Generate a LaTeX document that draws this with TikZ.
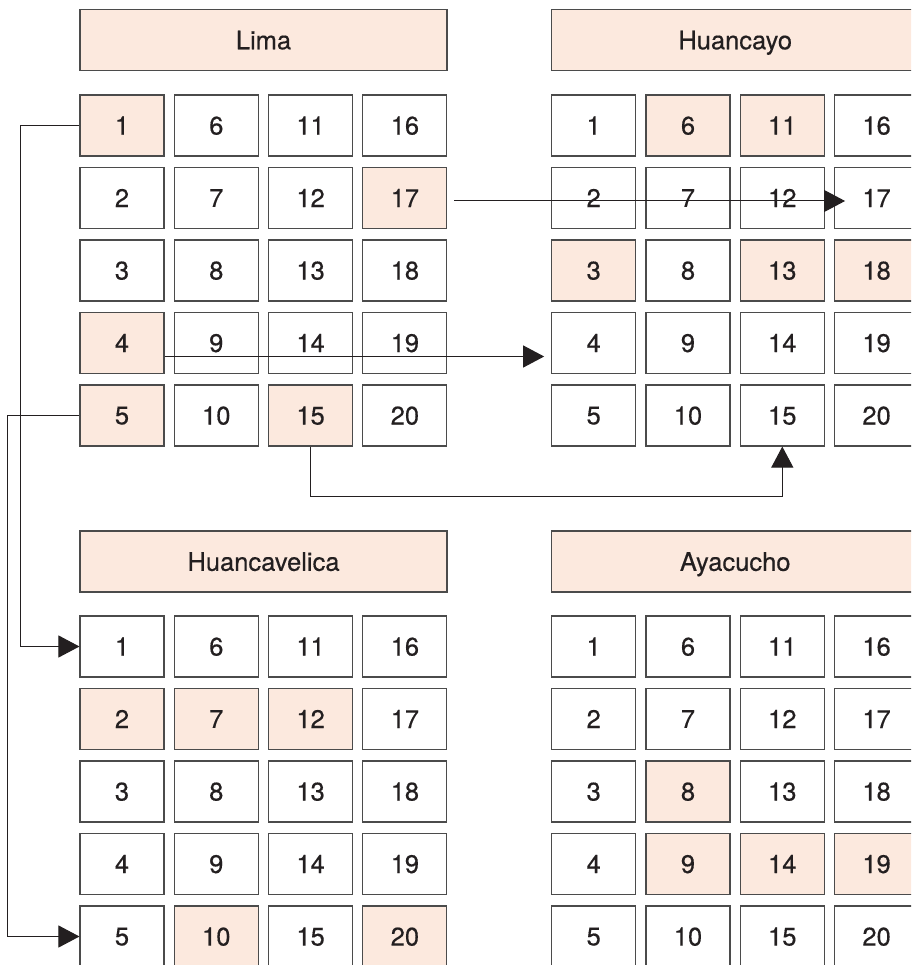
\documentclass[tikz,border=0pt]{standalone}
\usepackage{fontspec}
\setmainfont{TeX Gyre Heros}
\newfontfamily\cellfont[FakeBold=0.4]{TeX Gyre Heros}
\usetikzlibrary{arrows.meta}

\definecolor{peach}{RGB}{252,233,222}
\definecolor{edge}{RGB}{75,75,75}
\definecolor{ink}{RGB}{35,31,32}

% block of 20 numbered cells, counted down the columns
\newcommand{\citygrid}[4]{% prefix, left x, top y, shaded cells
  \foreach \c in {0,...,3}{
    \foreach \r in {0,...,4}{
      \pgfmathtruncatemacro{\n}{5*\c+\r+1}
      \gdef\cellfill{white}
      \foreach \h in {#4}{\ifnum\h=\n\relax\gdef\cellfill{peach}\fi}
      \node[cell, fill=\cellfill] (#1\n) at (#2+42+94.3*\c, #3+30.5+72.5*\r) {\n};
    }
  }
}

\begin{document}
\begin{tikzpicture}[x=1pt, y=-1pt,
    cell/.style={draw=edge, line width=1.1pt, minimum width=84pt, minimum height=61pt, inner sep=0pt, text depth=0pt, font=\cellfont\fontsize{25.5}{30}\selectfont, text=ink},
    head/.style={cell, fill=peach, minimum width=367pt},
    arr/.style={-{Triangle[length=21pt,width=22pt]}, line width=1pt, draw=ink},
    link/.style={line width=1pt, draw=ink}
]
\useasboundingbox (0,0) rectangle (911,965);
\clip (0,0) rectangle (911,965);

\node[head] (lima) at (263.5,40) {Lima};
\node[head] (huancayo) at (735.2,40) {Huancayo};
\node[head] (huancavelica) at (263.5,561.5) {Huancavelica};
\node[head] (ayacucho) at (735.2,561.5) {Ayacucho};

\citygrid{L}{80}{95}{1,4,5,15,17}
\citygrid{H}{551.7}{95}{3,6,11,13,18}
\citygrid{V}{80}{616}{2,7,10,12,20}
\citygrid{A}{551.7}{616}{8,9,14,19}

% moves between the cities
\draw[arr] (L1.west) -- ++(-59,0) |- (V1.west);
\draw[arr] (L5.west) -- ++(-72,0) |- (V5.west);
\draw[arr] ([yshift=-13.5pt]L4.east) -- ([xshift=-7pt,yshift=-13.5pt]H4.west);
\draw[arr] ([xshift=7pt,yshift=-3pt]L17.east) -- ([xshift=11pt,yshift=-3pt]H17.west);
\draw[arr] (L15.south) -- ++(0,50) -| (H15.south);
\end{tikzpicture}
\end{document}
